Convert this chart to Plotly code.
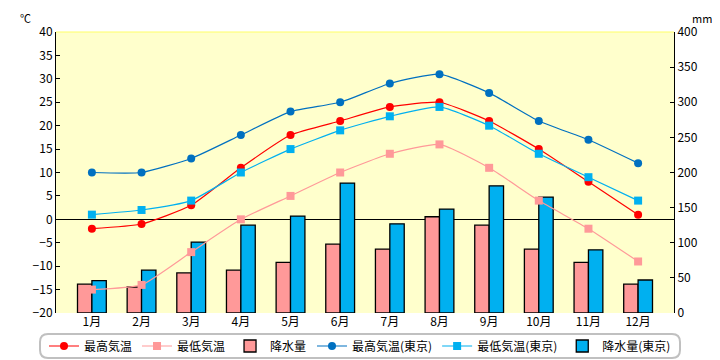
import plotly.graph_objects as go

months = ["1月", "2月", "3月", "4月", "5月", "6月", "7月", "8月", "9月", "10月", "11月", "12月"]
max_temp = [-2, -1, 3, 11, 18, 21, 24, 25, 21, 15, 8, 1]
min_temp = [-15, -14, -7, 0, 5, 10, 14, 16, 11, 4, -2, -9]
precip = [41, 37, 57, 61, 72, 98, 91, 137, 125, 91, 72, 41]
max_temp_tokyo = [10, 10, 13, 18, 23, 25, 29, 31, 27, 21, 17, 12]
min_temp_tokyo = [1, 2, 4, 10, 15, 19, 22, 24, 20, 14, 9, 4]
precip_tokyo = [46, 61, 101, 125, 138, 185, 127, 148, 181, 165, 90, 47]

temp_ticks = list(range(-20, 41, 5))
precip_ticks = list(range(0, 401, 50))

FONT = "Noto Sans CJK JP"
RED = "#FF0000"
PINK = "#FF9999"
DBLUE = "#0070C0"
LBLUE = "#00B0F0"

# the page body has an 8px margin, so the figure is placed at (8, 8)
OFF = 8
W, H = 720 - OFF, 360 - OFF
L, T = 56 - OFF, 32 - OFF
R = W - (674 - OFF)
B = H - (313 - OFF)
PW, PH = W - L - R, H - T - B


def px_x(x):
    return (x - OFF - L) / PW


def px_y(y):
    return (H - B - (y - OFF)) / PH


fig = go.Figure()

line_kw = dict(width=1.2, shape="spline", smoothing=0.5)
fig.add_trace(go.Scatter(x=months, y=max_temp, name="最高気温", mode="lines+markers", yaxis="y2",
                         line=dict(color=RED, **line_kw), legend="legend",
                         marker=dict(symbol="circle", size=8, color=RED)))
fig.add_trace(go.Scatter(x=months, y=min_temp, name="最低気温", mode="lines+markers", yaxis="y2",
                         line=dict(color=PINK, **line_kw), legend="legend",
                         marker=dict(symbol="square", size=8, color=PINK)))
fig.add_trace(go.Bar(x=months, y=precip, name="降水量", yaxis="y", legend="legend",
                     marker=dict(color=PINK, line=dict(color="black", width=1.3))))
fig.add_trace(go.Scatter(x=months, y=max_temp_tokyo, name="最高気温(東京)", mode="lines+markers", yaxis="y2",
                         line=dict(color=DBLUE, **line_kw), legend="legend2",
                         marker=dict(symbol="circle", size=8, color=DBLUE)))
fig.add_trace(go.Scatter(x=months, y=min_temp_tokyo, name="最低気温(東京)", mode="lines+markers", yaxis="y2",
                         line=dict(color=LBLUE, **line_kw), legend="legend2",
                         marker=dict(symbol="square", size=8, color=LBLUE)))
fig.add_trace(go.Bar(x=months, y=precip_tokyo, name="降水量(東京)", yaxis="y", legend="legend2",
                     marker=dict(color=LBLUE, line=dict(color="black", width=1.3))))

# rounded legend box
x0, x1 = px_x(40), px_x(680)
y0, y1 = px_y(358), px_y(334)
rx, ry = 8 / PW, 8 / PH
box_path = (f"M {x0+rx},{y1} L {x1-rx},{y1} Q {x1},{y1} {x1},{y1-ry} "
            f"L {x1},{y0+ry} Q {x1},{y0} {x1-rx},{y0} "
            f"L {x0+rx},{y0} Q {x0},{y0} {x0},{y0+ry} "
            f"L {x0},{y1-ry} Q {x0},{y1} {x0+rx},{y1} Z")

legend_common = dict(orientation="h", yanchor="middle", y=px_y(346), xanchor="left",
                     font=dict(family=FONT, size=12), traceorder="normal",
                     bgcolor="rgba(0,0,0,0)", itemwidth=30, tracegroupgap=0)

fig_top = 1 + T / PH

fig.update_layout(
    width=W, height=H,
    margin=dict(l=L, r=R, t=T, b=B, autoexpand=False),
    paper_bgcolor="white",
    plot_bgcolor="#FFFFCC",
    font=dict(family=FONT, size=12, color="black"),
    barmode="group",
    bargap=0.42,
    bargroupgap=0,
    showlegend=True,
    legend=dict(x=px_x(44), **legend_common),
    legend2=dict(x=px_x(312), **legend_common),
    xaxis=dict(showgrid=False, ticks="", showline=False,
               tickfont=dict(size=12), fixedrange=True),
    yaxis=dict(range=[0, 400], tickvals=precip_ticks, side="right",
               showgrid=False, zeroline=False, showline=True, linecolor="black",
               ticks="inside", ticklen=4, tickcolor="black", tickfont=dict(size=12)),
    yaxis2=dict(range=[-20, 40], tickvals=temp_ticks, overlaying="y", side="left",
                showgrid=False, zeroline=True,
                zerolinecolor="black", zerolinewidth=1.2, showline=True, linecolor="black",
                ticks="inside", ticklen=4, tickcolor="black", tickfont=dict(size=12)),
    shapes=[
        dict(type="line", xref="paper", yref="paper", x0=0, x1=1, y0=1, y1=1,
             line=dict(color="#FFFF66", width=1)),
        dict(type="path", xref="paper", yref="paper", path=box_path,
             line=dict(color="#C0C0C0", width=2), fillcolor="rgba(0,0,0,0)", layer="below"),
    ],
    annotations=[
        dict(text="℃", xref="paper", yref="paper", x=px_x(25), y=fig_top, showarrow=False,
             font=dict(size=11), xanchor="center", yanchor="top"),
        dict(text="mm", xref="paper", yref="paper", x=px_x(702), y=fig_top, showarrow=False,
             font=dict(size=11), xanchor="center", yanchor="top"),
    ],
)

fig.write_html("out.html")
